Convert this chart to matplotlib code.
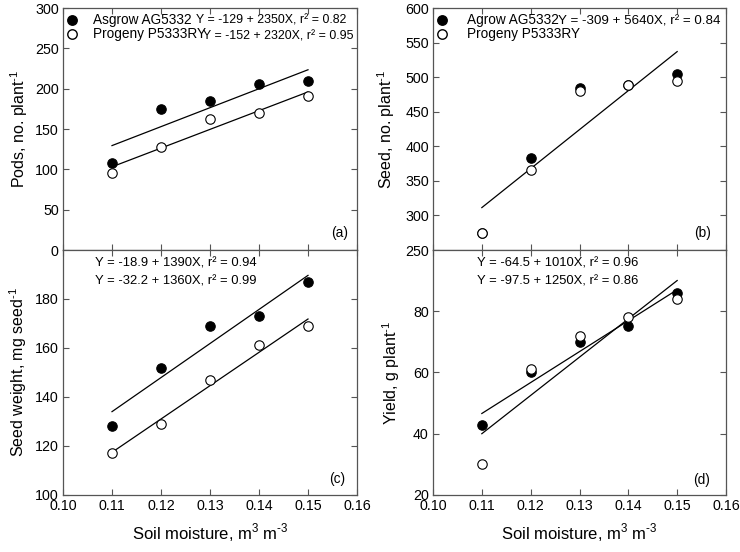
import numpy as np
import matplotlib
matplotlib.use('Agg')
import matplotlib.pyplot as plt

plt.rcParams['font.family'] = ['Liberation Sans', 'DejaVu Sans']
plt.rcParams['mathtext.fontset'] = 'custom'
plt.rcParams['mathtext.rm'] = 'Liberation Sans'

# soil moisture levels
moisture = [0.11, 0.12, 0.13, 0.14, 0.15]

# (a) pods per plant
pods_asgrow = [108, 175, 185, 206, 210]
pods_progeny = [96, 128, 163, 170, 191]
# (b) seeds per plant
seed_asgrow = [275, 383, 484, 489, 505]
seed_progeny = [275, 366, 480, 489, 495]
# (c) seed weight
sw_asgrow = [128, 152, 169, 173, 187]
sw_progeny = [117, 129, 147, 161, 169]
# (d) yield
yield_asgrow = [43, 60, 70, 75, 86]
yield_progeny = [30, 61, 72, 78, 84]

# regression lines (intercept, slope)
fit_a = [(-129, 2350), (-152, 2320)]
fit_b = [(-309, 5640)]
fit_c = [(-18.9, 1390), (-32.2, 1360)]
fit_d = [(-64.5, 1010), (-97.5, 1250)]

eq_a = ['Y = -129 + 2350X, r² = 0.82', 'Y = -152 + 2320X, r² = 0.95']
eq_b = ['Y = -309 + 5640X, r² = 0.84']
eq_c = ['Y = -18.9 + 1390X, r² = 0.94', 'Y = -32.2 + 1360X, r² = 0.99']
eq_d = ['Y = -64.5 + 1010X, r² = 0.96', 'Y = -97.5 + 1250X, r² = 0.86']

xticks = [0.10, 0.11, 0.12, 0.13, 0.14, 0.15, 0.16]
spine_col = '#555555'
fs = 9.8
lfs = 11.5

fig = plt.figure(figsize=(7.4, 5.52), dpi=100)
L, R = 63 / 740, 433 / 740
ax_a = fig.add_axes([L, 0.547, 294 / 740, 0.4384])
ax_b = fig.add_axes([R, 0.547, 293 / 740, 0.4384])
ax_c = fig.add_axes([L, 0.1033, 294 / 740, 0.444])
ax_d = fig.add_axes([R, 0.1033, 293 / 740, 0.444])


def draw(ax, ya, yp, fits):
    ax.plot(moisture, ya, 'o', color='black', mfc='black', ms=6.8, mew=0.8, zorder=3)
    ax.plot(moisture, yp, 'o', color='black', mfc='white', ms=6.8, mew=0.8, zorder=4)
    xs = np.array([moisture[0], moisture[-1]])
    for b0, b1 in fits:
        ax.plot(xs, b0 + b1 * xs, color='black', lw=0.9, zorder=2)
    ax.set_xlim(0.10, 0.16)
    ax.set_xticks(xticks)
    ax.tick_params(direction='in', top=True, right=True, length=4, width=0.8,
                   color=spine_col, labelsize=10.3, pad=3)
    for s in ax.spines.values():
        s.set_color(spine_col)
        s.set_linewidth(0.9)


draw(ax_a, pods_asgrow, pods_progeny, fit_a)
draw(ax_b, seed_asgrow, seed_progeny, fit_b)
draw(ax_c, sw_asgrow, sw_progeny, fit_c)
draw(ax_d, yield_asgrow, yield_progeny, fit_d)

ax_a.set_ylim(0, 300)
ax_a.set_yticks(range(0, 301, 50))
ax_b.set_ylim(250, 600)
ax_b.set_yticks(range(250, 601, 50))
ax_c.set_ylim(100, 200)
ax_c.set_yticks(range(100, 181, 20))
ax_d.set_ylim(20, 100)
ax_d.set_yticks(range(20, 81, 20))

for ax in (ax_a, ax_b):
    ax.tick_params(labelbottom=False)
for ax in (ax_c, ax_d):
    ax.set_xticklabels(['%.2f' % t for t in xticks])
    ax.set_xlabel('Soil moisture, m$^3$ m$^{\\text{-3}}$', fontsize=12, labelpad=6)

ax_a.set_ylabel('Pods, no. plant$^{\\text{-1}}$', fontsize=lfs, labelpad=4)
ax_b.set_ylabel('Seed, no. plant$^{\\text{-1}}$', fontsize=lfs, labelpad=6)
ax_c.set_ylabel('Seed weight, mg seed$^{\\text{-1}}$', fontsize=lfs, labelpad=4)
ax_d.set_ylabel('Yield, g plant$^{\\text{-1}}$', fontsize=lfs, labelpad=8)


# legend keys drawn in axes coordinates
def legend(ax, names, tx):
    ax.plot([0.031], [0.950], 'o', color='black', mfc='black', ms=6.8,
            transform=ax.transAxes, clip_on=False)
    ax.plot([0.031], [0.893], 'o', color='black', mfc='white', ms=6.8,
            transform=ax.transAxes, clip_on=False)
    ax.text(tx, 0.950, names[0], transform=ax.transAxes, fontsize=fs, va='center')
    ax.text(tx, 0.893, names[1], transform=ax.transAxes, fontsize=fs, va='center')


legend(ax_a, ['Asgrow AG5332', 'Progeny P5333RY'], 0.102)
legend(ax_b, ['Agrow AG5332', 'Progeny P5333RY'], 0.116)

ax_a.text(0.454, 0.950, eq_a[0], transform=ax_a.transAxes, fontsize=8.9, va='center')
ax_a.text(0.475, 0.882, eq_a[1], transform=ax_a.transAxes, fontsize=8.9, va='center')
ax_b.text(0.425, 0.946, eq_b[0], transform=ax_b.transAxes, fontsize=9.6, va='center')
for ax, eqs, x0 in ((ax_c, eq_c, 0.109), (ax_d, eq_d, 0.150)):
    ax.text(x0, 0.943, eqs[0], transform=ax.transAxes, fontsize=9.4, va='center')
    ax.text(x0, 0.873, eqs[1], transform=ax.transAxes, fontsize=9.4, va='center')

for ax, lab, x, y in ((ax_a, '(a)', 0.942, 0.07), (ax_b, '(b)', 0.92, 0.07),
                      (ax_c, '(c)', 0.932, 0.065), (ax_d, '(d)', 0.918, 0.06)):
    ax.text(x, y, lab, transform=ax.transAxes, fontsize=fs, ha='center', va='center')

fig.savefig('out.png', dpi=100)
